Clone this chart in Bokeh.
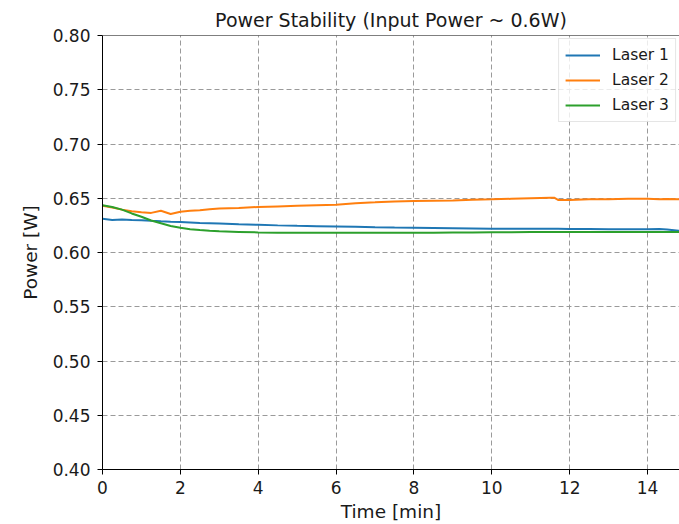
from bokeh.plotting import figure
from bokeh.models import Range1d, FixedTicker, Span, Legend, LegendItem, CustomJSTickFormatter
from bokeh.embed import file_html
from bokeh.resources import INLINE

time_min = [0, 0.25, 0.5, 0.75, 1.0, 1.25, 1.5, 1.75, 2.0, 2.25, 2.5, 2.75, 3.0, 3.5, 4.0, 4.5,
            5.0, 5.5, 6.0, 6.5, 7.0, 7.5, 8.0, 8.5, 9.0, 9.5, 10.0, 10.5, 11.0, 11.5, 11.6, 11.7,
            12.0, 12.5, 13.0, 13.5, 14.0, 14.3, 14.5, 14.8, 15.0]

laser1 = [0.631, 0.630, 0.6305, 0.630, 0.6298, 0.6292, 0.6287, 0.6283, 0.628, 0.6276, 0.6272, 0.627,
          0.6267, 0.626, 0.6255, 0.625, 0.6246, 0.6243, 0.624, 0.6237, 0.6233, 0.623, 0.6228, 0.6226,
          0.6224, 0.6222, 0.622, 0.622, 0.6219, 0.6218, 0.6218, 0.6218, 0.6217, 0.6216, 0.6215, 0.6215,
          0.6214, 0.6216, 0.6213, 0.620, 0.6195]

laser2 = [0.643, 0.6415, 0.6395, 0.638, 0.6372, 0.6365, 0.6385, 0.6355, 0.6375, 0.6385, 0.639, 0.6398,
          0.6405, 0.641, 0.642, 0.6425, 0.643, 0.6435, 0.644, 0.6455, 0.6462, 0.647, 0.6475, 0.6478,
          0.648, 0.6487, 0.649, 0.6495, 0.650, 0.6505, 0.6505, 0.6485, 0.6485, 0.649, 0.649, 0.6495,
          0.6495, 0.649, 0.6492, 0.649, 0.649]

laser3 = [0.6435, 0.642, 0.6395, 0.636, 0.633, 0.6295, 0.627, 0.6245, 0.6228, 0.6215, 0.6207, 0.620,
          0.6195, 0.619, 0.6185, 0.6183, 0.6182, 0.6182, 0.6182, 0.6182, 0.6182, 0.6183, 0.6183, 0.6183,
          0.6184, 0.6185, 0.6186, 0.6187, 0.6188, 0.6188, 0.6188, 0.6188, 0.6189, 0.619, 0.619, 0.619,
          0.619, 0.619, 0.619, 0.619, 0.619]

series_names = ["Laser 1", "Laser 2", "Laser 3"]
series_colors = ["#1f77b4", "#ff7f0e", "#2ca02c"]
x_ticks = [0, 2, 4, 6, 8, 10, 12, 14]
y_ticks = [0.40, 0.45, 0.50, 0.55, 0.60, 0.65, 0.70, 0.75, 0.80]

FONT = "DejaVu Sans"

p = figure(width=679, height=524, output_backend="svg", toolbar_location=None,
           x_range=Range1d(0, 14.82), y_range=Range1d(0.40, 0.80),
           title="Power Stability (Input Power ~ 0.6W)",
           min_border_left=102, min_border_right=0, min_border_top=35, min_border_bottom=55)

p.title.align = "center"
p.title.text_font = FONT
p.title.text_font_size = "19px"
p.title.text_font_style = "normal"
p.title.text_color = "#1a1a1a"
p.title.standoff = 9

p.outline_line_color = None

for ax in (p.xaxis[0], p.yaxis[0]):
    ax.axis_line_color = "black"
    ax.axis_line_width = 1
    ax.major_tick_line_color = "black"
    ax.major_tick_out = 5
    ax.major_tick_in = 0
    ax.minor_tick_line_color = None
    ax.major_label_text_font = FONT
    ax.major_label_text_font_size = "17px"
    ax.major_label_text_color = "#1a1a1a"
    ax.axis_label_text_font = FONT
    ax.axis_label_text_font_size = "18.5px"
    ax.axis_label_text_font_style = "normal"
    ax.axis_label_text_color = "#1a1a1a"

p.xaxis.ticker = FixedTicker(ticks=x_ticks)
p.yaxis.ticker = FixedTicker(ticks=y_ticks)
p.yaxis.formatter = CustomJSTickFormatter(code="return tick.toFixed(2);")
p.xaxis.axis_label = "Time [min]"
p.yaxis.axis_label = "Power [W]"
p.xaxis.major_label_standoff = 6
p.yaxis.major_label_standoff = 7
p.xaxis.axis_label_standoff = 4
p.yaxis.axis_label_standoff = 9

for g in (p.xgrid[0], p.ygrid[0]):
    g.grid_line_color = "#9a9a9a"
    g.grid_line_dash = "5 3"
    g.grid_line_width = 1

p.add_layout(Span(location=0.80, dimension="width", line_color="black", line_width=1))

renderers = []
for ys, c in zip([laser1, laser2, laser3], series_colors):
    r = p.line(time_min, ys, line_color=c, line_width=2)
    renderers.append(r)

legend = Legend(items=[LegendItem(label=n, renderers=[r]) for n, r in zip(series_names, renderers)],
                location="top_right")
legend.margin = 3
legend.padding = 6
legend.spacing = 5
legend.glyph_width = 35
legend.glyph_height = 20
legend.label_height = 20
legend.label_standoff = 12
legend.label_text_font = FONT
legend.label_text_font_size = "15.5px"
legend.label_text_color = "#1a1a1a"
legend.border_line_color = "#cccccc"
legend.background_fill_color = "white"
legend.background_fill_alpha = 0.8
p.add_layout(legend)

open("out.html", "w").write(file_html(p, INLINE))
